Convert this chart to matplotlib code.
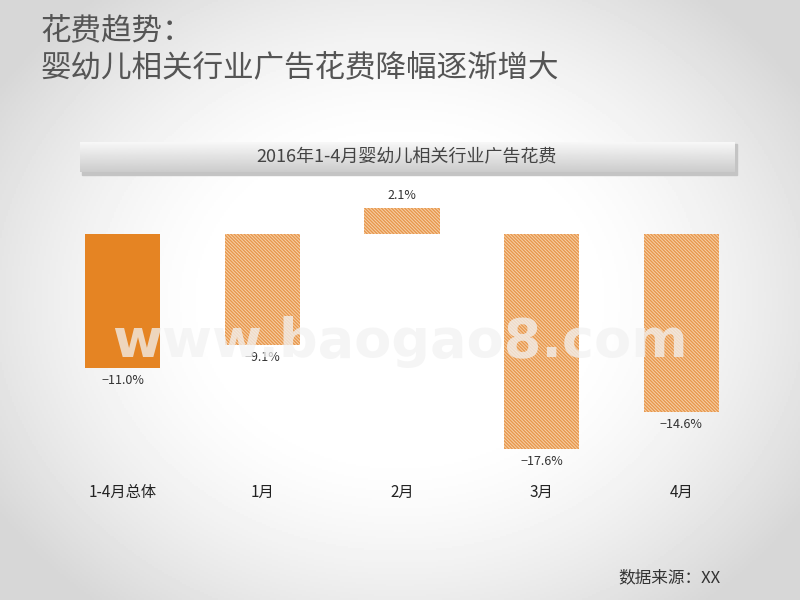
import matplotlib
matplotlib.use('Agg')
import matplotlib.pyplot as plt
import numpy as np
from matplotlib.patches import Rectangle

plt.rcParams['font.family'] = ['Noto Sans CJK SC', 'DejaVu Sans']
plt.rcParams['hatch.linewidth'] = 1.0

# 数据
categories = ['1-4月总体', '1月', '2月', '3月', '4月']
values = [-11.0, -9.1, 2.1, -17.6, -14.6]
value_labels = ['−11.0%', '−9.1%', '2.1%', '−17.6%', '−14.6%']

title1 = '花费趋势：'
title2 = '婴幼儿相关行业广告花费降幅逐渐增大'
banner = '2016年1-4月婴幼儿相关行业广告花费'
source = '数据来源：XX'

fig = plt.figure(figsize=(8, 6), dpi=100)

# 背景：中间白，四周灰的渐变
bg = fig.add_axes([0, 0, 1, 1])
yy, xx = np.mgrid[-1:1:300j, -1:1:400j]
r = np.sqrt((xx / 1.0) ** 2 + (yy / 1.1) ** 2)
shade = 1 - 0.16 * np.clip((r - 0.45) / 0.75, 0, 1) ** 1.5
bg.imshow(shade, cmap='gray', vmin=0, vmax=1, extent=[0, 1, 0, 1],
          aspect='auto', zorder=0)
bg.set_xlim(0, 1)
bg.set_ylim(0, 1)
bg.axis('off')

# 标题
bg.text(40 / 800, 1 - 32 / 600, title1, fontsize=22, color='#555555',
        va='center', ha='left', fontweight='light')
bg.text(40 / 800, 1 - 68 / 600, title2, fontsize=22, color='#555555',
        va='center', ha='left', fontweight='light')

# 标题条（带阴影）
shadow = Rectangle((82 / 800, 1 - 175 / 600), 655 / 800, 31 / 600,
                   color='#c4c4c4', zorder=1)
bg.add_patch(shadow)
grad = np.linspace(0.97, 0.80, 50).reshape(-1, 1)
bg.imshow(grad, cmap='gray', vmin=0, vmax=1,
          extent=[80 / 800, 735 / 800, 1 - 172 / 600, 1 - 142 / 600],
          aspect='auto', zorder=2)
bg.text(407 / 800, 1 - 157 / 600, banner, fontsize=13, color='#444444',
        ha='center', va='center', zorder=3)

bg.text(720 / 800, 1 - 578 / 600, source, fontsize=12, color='#333333',
        ha='right', va='center')

# 柱状图
ax = fig.add_axes([53 / 800, 122 / 600, 698 / 800, 293 / 600])
ax.patch.set_alpha(0)
x = np.arange(len(categories))
for i, v in enumerate(values):
    if i == 0:
        ax.bar(x[i], v, width=0.54, color='#E58423', zorder=2)
    else:
        ax.bar(x[i], v, width=0.54, facecolor='#F6D2AA', edgecolor='#E8974C',
               hatch='\\' * 10, linewidth=0, zorder=2)
    if v < 0:
        ax.text(x[i], v - 0.5, value_labels[i], ha='center', va='top',
                fontsize=9, color='#333333')
    else:
        ax.text(x[i], v + 0.5, value_labels[i], ha='center', va='bottom',
                fontsize=9, color='#333333')

ax.set_xlim(-0.5, 4.5)
ax.set_ylim(-20, 4)
ax.set_yticks([])
ax.set_xticks([])
for s in ax.spines.values():
    s.set_visible(False)
for i, c in enumerate(categories):
    ax.text(x[i], -21.2, c, ha='center', va='center', fontsize=11,
            color='#222222')

# 水印
fig.text(400 / 800, 1 - 342 / 600, 'www.baogao8.com', fontsize=39,
         fontweight='bold', color='#f2f2f2', alpha=0.75, ha='center',
         va='center', family='DejaVu Sans', zorder=5)

fig.savefig('out.png', dpi=100)
